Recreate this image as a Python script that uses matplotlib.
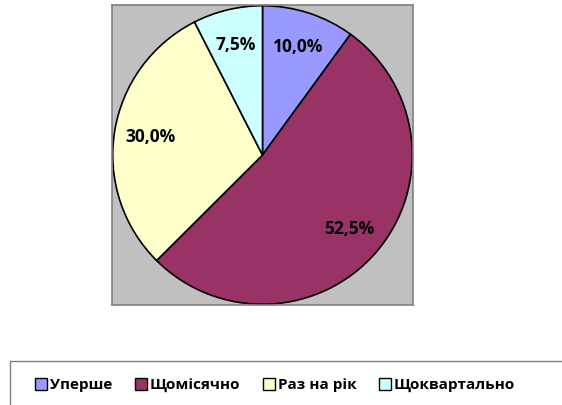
import matplotlib
matplotlib.use("Agg")
import matplotlib.pyplot as plt
from matplotlib.patches import Patch, Rectangle

categories = ["Уперше", "Щомісячно", "Раз на рік", "Щоквартально"]
values = [10.0, 52.5, 30.0, 7.5]
colors = ["#9999FF", "#993366", "#FFFFCC", "#CCFFFF"]

plt.rcParams['font.family'] = ['Open Sans', 'DejaVu Sans']

W, H = 562, 405
fig = plt.figure(figsize=(W / 100, H / 100), dpi=100)
fig.patch.set_facecolor("white")

ax = fig.add_axes([112 / W, (H - 305) / H, 301 / W, 300 / H])

def fmt(p):
    return f"{p:.1f}%".replace(".", ",")

wedges, texts, autotexts = ax.pie(
    values, colors=colors, startangle=90, counterclock=False,
    autopct=fmt, pctdistance=0.76, radius=1.0, frame=True,
    wedgeprops=dict(edgecolor="black", linewidth=1.2),
    textprops=dict(fontsize=12.5, fontweight="bold", color="black"),
)
ax.set_facecolor("#C0C0C0")
ax.set_xlim(-1.005, 1.005)
ax.set_ylim(-1.005, 1.005)
ax.set_aspect("auto")
ax.set_xticks([])
ax.set_yticks([])
for s in ax.spines.values():
    s.set_visible(True)
    s.set_edgecolor("#808080")
    s.set_linewidth(1.2)

# legend frame
fig.patches.append(Rectangle((10 / W, -0.1), 1.0, (H - 361) / H + 0.1,
                             transform=fig.transFigure, facecolor="white",
                             edgecolor="#808080", linewidth=1.0))

handles = [Patch(facecolor=c, edgecolor="black", linewidth=1.0) for c in colors]
fig.legend(handles, categories, loc="center", bbox_to_anchor=(275 / W, (H - 385) / H),
           ncol=4, frameon=False, handlelength=0.8, handleheight=0.8,
           handletextpad=0.2, columnspacing=1.45,
           prop=dict(family=['Open Sans', 'DejaVu Sans'], weight="bold", size=11))

fig.savefig("out.png", dpi=100)
